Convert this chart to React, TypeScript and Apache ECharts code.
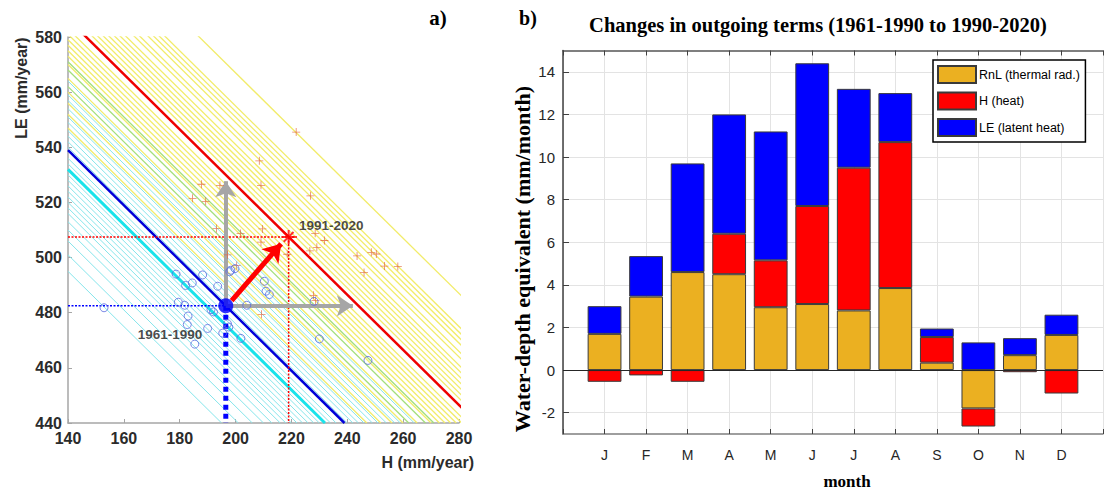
import React, { useEffect, useRef } from 'react';
import * as echarts from 'echarts';

// ---------- panel a) ----------
const cyanLevels = [635, 641, 646, 650, 653, 656, 658, 660, 662, 664, 666, 668, 670, 674, 676, 680, 682, 684, 686, 689, 691, 694, 697, 699, 704];
const cyanBoldLevels = [672];
const greenLevels = [702, 708, 711];
const yellowLevels = [687, 692, 696, 700, 705, 710, 713, 715, 717, 719, 721, 723, 729, 731, 733, 735, 737, 739, 741, 744, 746, 749, 751, 753, 755, 767];

const earlyPoints = [
  [152.9, 481.8], [178.7, 494.0], [182.1, 489.9], [184.5, 490.8], [188.2, 493.7], [179.5, 483.8],
  [181.8, 482.7], [183.0, 478.8], [182.7, 475.7], [185.4, 468.6], [190.0, 474.3], [193.6, 489.6],
  [191.2, 481.1], [192.1, 480.3], [195.4, 472.6], [197.1, 476.0], [197.6, 474.8], [197.9, 494.9],
  [198.3, 495.4], [199.8, 496.0], [201.9, 470.7], [204.0, 482.7], [210.3, 491.4], [210.9, 487.8],
  [212.1, 486.6], [228.1, 484.1], [230.0, 470.5], [247.4, 462.7],
];
const latePoints = [
  [221.7, 545.5], [208.5, 535.1], [209.1, 526.2], [187.8, 526.6], [194.4, 526.2], [184.6, 521.5],
  [189.3, 520.4], [226.8, 522.4], [193.2, 510.5], [209.6, 510.4], [201.8, 508.7], [209.1, 505.6],
  [228.5, 508.8], [231.8, 506.2], [229.1, 503.7], [226.6, 502.4], [197.1, 501.0], [218.5, 501.2],
  [200.4, 497.1], [243.5, 500.6], [248.6, 501.9], [250.4, 501.3], [253.3, 496.9], [258.1, 496.8],
  [246.0, 494.6], [227.9, 486.3], [228.6, 484.4], [209.3, 479.4],
];
const earlyMean = [196.5, 482.5];
const lateMean = [219, 507.5];
const grayArrowTips = [[196.5, 527.7], [242, 482.5]];
const redArrow = [[198.6, 484.4], [216.3, 505.0]];
const earlyLabelPos = [165, 472];
const lateLabelPos = [222.7, 511.8];

// ---------- panel b) ----------
const months = ['J', 'F', 'M', 'A', 'M', 'J', 'J', 'A', 'S', 'O', 'N', 'D'];
const rnl = [1.7, 3.45, 4.6, 4.5, 2.95, 3.1, 2.8, 3.85, 0.35, -1.8, 0.7, 1.65];
const heat = [-0.55, -0.25, -0.55, 1.9, 2.2, 4.6, 6.7, 6.85, 1.2, -0.85, -0.1, -1.1];
const latent = [1.3, 1.9, 5.1, 5.6, 6.05, 6.7, 3.7, 2.3, 0.4, 1.3, 0.8, 0.95];
const yTicks = [-2, 0, 2, 4, 6, 8, 10, 12, 14];
const yRange = [-3, 15];

const SANS = '"Liberation Sans", Arial, sans-serif';
const SERIF = '"Liberation Serif", "Times New Roman", serif';

export default function App() {
  const ref = useRef<HTMLDivElement>(null);
  useEffect(() => {
    const chart = echarts.init(ref.current!, null, { renderer: 'svg' });
    const diag = (c: number) => [[140, c - 140], [c - 440, 440]];
    const levelSeries = (levels: number[], color: string, width: number, z: number) =>
      levels.map((c) => ({
        type: 'line', xAxisIndex: 0, yAxisIndex: 0, data: diag(c), symbol: 'none', silent: true, z,
        clip: true, lineStyle: { color, width },
      }));
    const padded = (arr: number[]) => [null, ...arr, null];
    const monthCats = ['', ...months, ''];
    const centered = { align: 'center', verticalAlign: 'middle', textAlign: 'center', textVerticalAlign: 'middle' };

    const option: any = {
      animation: false,
      backgroundColor: '#ffffff',
      grid: [
        { left: 68, top: 37, width: 391, height: 386 },
        { left: 563, top: 50.5, width: 550, height: 383.5 },
      ],
      xAxis: [
        {
          gridIndex: 0, type: 'value', min: 140, max: 280, interval: 20,
          axisLine: { show: true, lineStyle: { color: '#a6a6a6', width: 1.5 } },
          axisTick: { show: true, inside: true, length: 4, lineStyle: { color: '#a6a6a6' } },
          axisLabel: { color: '#2b2b2b', fontWeight: 'bold', fontSize: 16, fontFamily: SANS, margin: 7 },
          splitLine: { show: false },
        },
        {
          gridIndex: 1, type: 'category', data: monthCats, boundaryGap: false, position: 'bottom',
          axisLine: { show: true, onZero: false, lineStyle: { color: '#7f7f7f', width: 1.5 } },
          axisTick: { show: true, inside: true, length: 5, interval: 0, lineStyle: { color: '#404040' } },
          axisLabel: { interval: 0, color: '#262626', fontSize: 14, fontFamily: SANS, margin: 14 },
          splitLine: { show: true, interval: 0, lineStyle: { color: '#e3e3e3', width: 1 } },
        },
        {
          gridIndex: 1, type: 'category', data: monthCats, boundaryGap: false, position: 'top',
          axisLine: { show: true, onZero: false, lineStyle: { color: '#555555', width: 1.5 } },
          axisTick: { show: true, inside: true, length: 5, interval: 0, lineStyle: { color: '#404040' } },
          axisLabel: { show: false },
          splitLine: { show: false },
        },
      ],
      yAxis: [
        {
          gridIndex: 0, type: 'value', min: 440, max: 580, interval: 20,
          axisLine: { show: true, lineStyle: { color: '#a6a6a6', width: 1.5 } },
          axisTick: { show: true, inside: true, length: 4, lineStyle: { color: '#a6a6a6' } },
          axisLabel: { color: '#2b2b2b', fontWeight: 'bold', fontSize: 16, fontFamily: SANS, margin: 6 },
          splitLine: { show: false },
        },
        {
          gridIndex: 1, type: 'value', min: yRange[0], max: yRange[1],
          axisLine: { show: true, onZero: false, lineStyle: { color: '#404040', width: 1.5 } },
          axisTick: { show: true, inside: true, length: 6, customValues: yTicks, lineStyle: { color: '#404040' } },
          axisLabel: { customValues: yTicks, color: '#262626', fontSize: 15, fontFamily: SANS, margin: 8 },
          splitLine: { show: true, lineStyle: { color: '#e3e3e3', width: 1 } },
        },
      ],
      legend: {
        data: ['RnL (thermal rad.)', 'H (heat)', 'LE (latent heat)'],
        orient: 'vertical', left: 933, top: 60,
        backgroundColor: '#ffffff', borderColor: '#000000', borderWidth: 1.5, borderRadius: 0,
        padding: [5, 5, 5, 4], itemWidth: 38, itemHeight: 17, itemGap: 7.5,
        textStyle: { fontSize: 12.5, fontFamily: SANS, color: '#000000', padding: [0, 0, 0, -2] },
        icon: 'rect', selectedMode: false,
      },
      graphic: [
        { type: 'text', x: 438, y: 18, style: { text: 'a)', font: `bold 21px ${SERIF}`, fill: '#000', ...centered } },
        { type: 'text', x: 528, y: 18, style: { text: 'b)', font: `bold 20px ${SERIF}`, fill: '#000', ...centered } },
        { type: 'text', x: 818, y: 25, style: { text: 'Changes in outgoing terms (1961-1990 to 1990-2020)', font: `bold 20.5px ${SERIF}`, fill: '#000', ...centered } },
        { type: 'text', x: 522, y: 259, rotation: Math.PI / 2, style: { text: 'Water-depth equivalent (mm/month)', font: `bold 22px ${SERIF}`, fill: '#000', ...centered } },
        { type: 'text', x: 847, y: 481, style: { text: 'month', font: `bold 17px ${SERIF}`, fill: '#000', ...centered } },
        { type: 'text', x: 474, y: 462, style: { text: 'H (mm/year)', font: `bold 16px ${SANS}`, fill: '#2b2b2b', align: 'right', verticalAlign: 'middle', textAlign: 'right', textVerticalAlign: 'middle' } },
        { type: 'text', x: 21, y: 88, rotation: Math.PI / 2, style: { text: 'LE (mm/year)', font: `bold 16px ${SANS}`, fill: '#2b2b2b', ...centered } },
      ],
      series: [
        ...levelSeries(cyanLevels, '#86e5eb', 1, 1),
        ...levelSeries(yellowLevels, '#f2ec6a', 1.3, 1),
        ...levelSeries(greenLevels, '#a3df7c', 1.3, 1),
        ...levelSeries(cyanBoldLevels, '#19e3ea', 3, 2),
        ...levelSeries([earlyMean[0] + earlyMean[1]], '#0000d8', 2.5, 3),
        ...levelSeries([lateMean[0] + lateMean[1]], '#ee0000', 2.5, 3),
        {
          type: 'line', xAxisIndex: 0, yAxisIndex: 0, symbol: 'none', silent: true, z: 4,
          data: [[140, earlyMean[1]], earlyMean], lineStyle: { color: '#0000ff', width: 1.5, type: [2, 1.5] },
        },
        {
          type: 'line', xAxisIndex: 0, yAxisIndex: 0, symbol: 'none', silent: true, z: 4,
          data: [[140, lateMean[1]], [lateMean[0] + 3, lateMean[1]]], lineStyle: { color: '#ff0000', width: 1.5, type: [2, 1.5] },
        },
        {
          type: 'line', xAxisIndex: 0, yAxisIndex: 0, symbol: 'none', silent: true, z: 4,
          data: [lateMean, [lateMean[0], 440]], lineStyle: { color: '#ff0000', width: 1.5, type: [2, 1.5] },
        },
        {
          type: 'line', xAxisIndex: 0, yAxisIndex: 0, symbol: 'none', silent: true, z: 4,
          data: [earlyMean, [earlyMean[0], 440]], lineStyle: { color: '#0000ff', width: 5, type: [5, 4] },
        },
        {
          type: 'scatter', xAxisIndex: 0, yAxisIndex: 0, silent: true, z: 5,
          data: latePoints, symbol: 'path://M4.5,0H5.5V4.5H10V5.5H5.5V10H4.5V5.5H0V4.5H4.5Z', symbolSize: 8,
          itemStyle: { color: '#e0643c' },
        },
        {
          type: 'scatter', xAxisIndex: 0, yAxisIndex: 0, silent: true, z: 5,
          data: earlyPoints, symbol: 'circle', symbolSize: 8,
          itemStyle: { color: 'rgba(0,0,0,0)', borderColor: '#5b6be0', borderWidth: 1 },
        },
        {
          type: 'line', xAxisIndex: 0, yAxisIndex: 0, silent: true, z: 6, data: [earlyMean], symbol: 'none',
          lineStyle: { width: 0 },
          markLine: {
            silent: true, symbol: ['none', 'arrow'], symbolSize: 16, label: { show: false },
            lineStyle: { color: '#a6a6a6', width: 4, type: 'solid' },
            data: grayArrowTips.map((tip) => [{ coord: earlyMean }, { coord: tip }]),
          },
        },
        {
          type: 'line', xAxisIndex: 0, yAxisIndex: 0, silent: true, z: 7, data: [earlyMean], symbol: 'none',
          lineStyle: { width: 0 },
          markLine: {
            silent: true, symbol: ['none', 'arrow'], symbolSize: 17, label: { show: false },
            lineStyle: { color: '#ff0000', width: 5, type: 'solid' },
            data: [[{ coord: redArrow[0] }, { coord: redArrow[1] }]],
          },
        },
        {
          type: 'scatter', xAxisIndex: 0, yAxisIndex: 0, silent: true, z: 8,
          data: [earlyMean], symbol: 'circle', symbolSize: 15, itemStyle: { color: '#0000ff' },
        },
        {
          type: 'scatter', xAxisIndex: 0, yAxisIndex: 0, silent: true, z: 8,
          data: [lateMean], symbol: 'path://M5,0V10M0,5H10M1.5,1.5L8.5,8.5M1.5,8.5L8.5,1.5', symbolSize: 14,
          itemStyle: { color: 'none', borderColor: '#ff0000', borderWidth: 2 },
        },
        {
          type: 'scatter', xAxisIndex: 0, yAxisIndex: 0, silent: true, z: 9,
          data: [earlyLabelPos], symbolSize: 0,
          label: { show: true, position: 'right', distance: 0, formatter: '1961-1990', color: '#1a1a1a', fontWeight: 'bold', fontSize: 13.5, fontFamily: SANS },
        },
        {
          type: 'scatter', xAxisIndex: 0, yAxisIndex: 0, silent: true, z: 9,
          data: [lateLabelPos], symbolSize: 0,
          label: { show: true, position: 'right', distance: 0, formatter: '1991-2020', color: '#1a1a1a', fontWeight: 'bold', fontSize: 13.5, fontFamily: SANS },
        },
        // ---- panel b) bars ----
        {
          name: 'RnL (thermal rad.)', type: 'bar', xAxisIndex: 1, yAxisIndex: 1, stack: 'total', barWidth: 33.8,
          data: padded(rnl), itemStyle: { color: '#ebb021', borderColor: '#3a3a3a', borderWidth: 1 },
          markLine: {
            silent: true, symbol: ['none', 'none'], label: { show: false },
            lineStyle: { color: '#262626', width: 1.2, type: 'solid' }, data: [{ yAxis: 0 }], z: 10,
          },
        },
        {
          name: 'H (heat)', type: 'bar', xAxisIndex: 1, yAxisIndex: 1, stack: 'total', barWidth: 33.8,
          data: padded(heat), itemStyle: { color: '#ff0000', borderColor: '#3a3a3a', borderWidth: 1 },
        },
        {
          name: 'LE (latent heat)', type: 'bar', xAxisIndex: 1, yAxisIndex: 1, stack: 'total', barWidth: 33.8,
          data: padded(latent), itemStyle: { color: '#0000ff', borderColor: '#3a3a3a', borderWidth: 1 },
        },
      ],
    };
    chart.setOption(option);
    return () => chart.dispose();
  }, []);
  return <div ref={ref} style={{ position: 'fixed', left: 0, top: 0, width: 1106, height: 490 }} />;
}
